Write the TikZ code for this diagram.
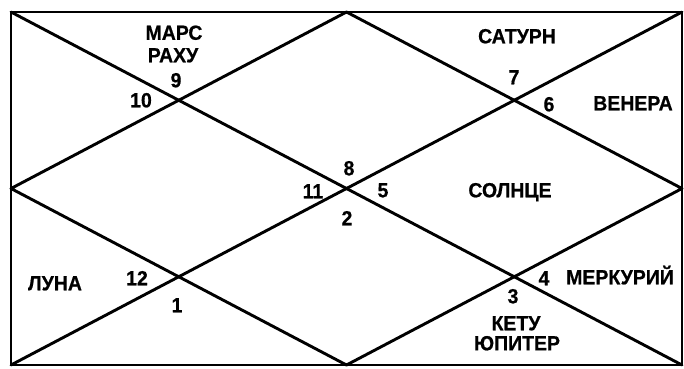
\documentclass[tikz,border=0pt]{standalone}
\usepackage{fontspec}
\setmainfont{Liberation Sans}
\newfontfamily\chartfont[FakeStretch=0.95,FakeBold=0.6]{Liberation Sans Bold}
\begin{document}
\begin{tikzpicture}[x=1pt,y=-1pt,
  chartline/.style={line width=2.9pt,line cap=round,line join=round},
  lbl/.style={font=\chartfont\fontsize{20.5}{24}\selectfont,inner sep=0pt,text height=14.6pt,text depth=0pt,align=center},
  num/.style={lbl}]
\useasboundingbox (0,0) rectangle (684,368);
% corners and midpoints
\coordinate (tl) at (11,12);
\coordinate (tr) at (682,12);
\coordinate (br) at (682,365);
\coordinate (bl) at (11,365);
\coordinate (tm) at (346.5,12);
\coordinate (rm) at (682,188.5);
\coordinate (bm) at (346.5,365);
\coordinate (lm) at (11,188.5);
\draw[chartline] (tl) -- (tr) -- (br) -- (bl) -- cycle;
\draw[chartline] (tl) -- (br);
\draw[chartline] (tr) -- (bl);
\draw[chartline] (tm) -- (rm) -- (bm) -- (lm) -- cycle;
% house numbers
\node[num] (n1) at (177,305) {1};
\node[num] (n2) at (347,218) {2};
\node[num] (n3) at (513,296) {3};
\node[num] (n4) at (544,278) {4};
\node[num] (n5) at (383,190) {5};
\node[num] (n6) at (549,104) {6};
\node[num] (n7) at (514,77) {7};
\node[num] (n8) at (349,168) {8};
\node[num] (n9) at (176,80) {9};
\node[num] (n10) at (141,100) {10};
\node[num] (n11) at (313,191) {11};
\node[num] (n12) at (137,278) {12};
% planets
\node[lbl] (mars) at (174,32.5) {МАРС};
\node[lbl] (rahu) at (173,55) {РАХУ};
\node[lbl] (saturn) at (517,36) {САТУРН};
\node[lbl] (venus) at (633,103) {ВЕНЕРА};
\node[lbl] (sun) at (510,190) {СОЛНЦЕ};
\node[lbl] (moon) at (55,283) {ЛУНА};
\node[lbl] (mercury) at (620,277) {МЕРКУРИЙ};
\node[lbl] (ketu) at (516,323) {КЕТУ};
\node[lbl] (jupiter) at (517,343) {ЮПИТЕР};
\end{tikzpicture}
\end{document}
